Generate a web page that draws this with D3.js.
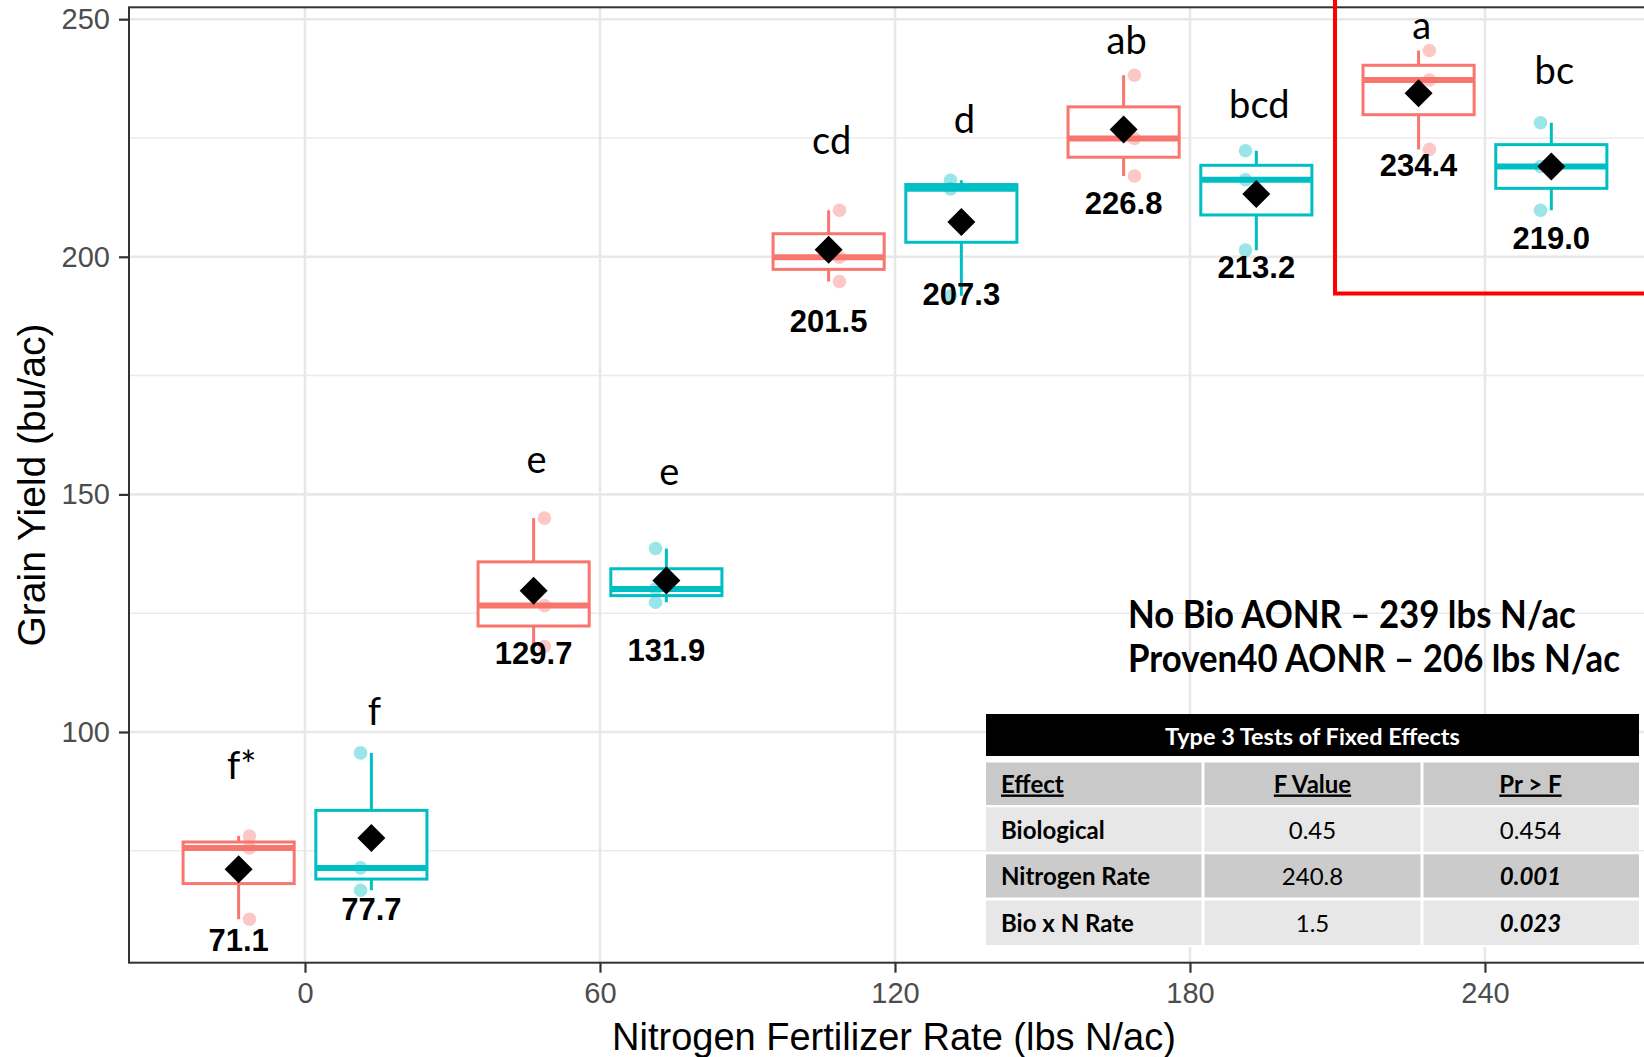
<!DOCTYPE html>
<html>
<head>
<meta charset="utf-8">
<script src="https://cdn.jsdelivr.net/npm/d3@7"></script>
<style>
  html, body { margin: 0; padding: 0; background: #ffffff; }
  svg { display: block; }
</style>
</head>
<body>
<svg id="chart" width="1644" height="1057"></svg>
<script>
// Nitrogen rates (lbs N/ac) and the two biological treatments
const rates = [0, 60, 120, 180, 240];
const treatments = ["No Bio", "Proven40"];

// Plot-level grain yield observations (bu/ac), three reps per rate
const noBioObs = [
  [78.1, 75.6, 60.6],
  [145.0, 126.6, 118.0],
  [209.8, 199.9, 194.8],
  [238.2, 224.9, 217.0],
  [243.4, 237.2, 222.6]
];
const proven40Obs = [
  [95.6, 71.4, 66.7],
  [138.6, 130.1, 127.3],
  [216.1, 214.3, 191.8],
  [222.3, 216.2, 201.4],
  [228.2, 219.0, 209.8]
];

// Treatment means (bu/ac)
const noBioMeans = [71.1, 129.7, 201.5, 226.8, 234.4];
const proven40Means = [77.7, 131.9, 207.3, 213.2, 219.0];

// Mean separation letters
const noBioLetters = ["f*", "e", "cd", "ab", "a"];
const proven40Letters = ["f", "e", "d", "bcd", "bc"];

// Where the letters and the mean labels sit, in yield units
const noBioLetterY = [90.1, 154.4, 221.7, 242.6, 245.9];
const proven40LetterY = [101.5, 151.9, 226.1, 229.2, 236.3];
const noBioLabelY = [54.0, 114.3, 184.1, 209.1, 217.0];
const proven40LabelY = [60.4, 115.0, 189.9, 195.5, 201.6];

// Axis ticks
const xTicks = [0, 60, 120, 180, 240];
const yTicks = [100, 150, 200, 250];
const yMinorTicks = [75, 125, 175, 225];

// Type 3 tests of fixed effects
const effects = ["Biological", "Nitrogen Rate", "Bio x N Rate"];
const fValues = ["0.45", "240.8", "1.5"];
const pValues = ["0.454", "0.001", "0.023"];
const pSignificant = [false, true, true];

// Agronomic optimum N rates
const aonrLines = ["No Bio AONR \u2013 239 lbs N/ac", "Proven40 AONR \u2013 206 lbs N/ac"];

// ---------------------------------------------------------------
const colors = { "No Bio": "#F8766D", "Proven40": "#00BFC4" };
const boxDodge = 13.5;     // box centre offset from the rate (x units)
const pointDodge = 11.3;   // point offset from the rate (x units)
const boxHalf = 11.3;      // half box width (x units)

const svg = d3.select("#chart");
svg.append("rect").attr("width", 1644).attr("height", 1057).attr("fill", "#fff");

const panel = { left: 129, right: 1659, top: 7.3, bottom: 962.7 };
const x = d3.scaleLinear().domain([-35.8, 275.4]).range([panel.left, panel.right]);
const y = d3.scaleLinear().domain([51.45, 252.5]).range([panel.bottom, panel.top]);

svg.append("defs").append("clipPath").attr("id", "panelClip")
  .append("rect")
  .attr("x", panel.left).attr("y", panel.top)
  .attr("width", panel.right - panel.left).attr("height", panel.bottom - panel.top);

const plot = svg.append("g").attr("clip-path", "url(#panelClip)");
const labels = svg.append("g");

// grid
plot.selectAll("line.yminor").data(yMinorTicks).join("line")
  .attr("x1", panel.left).attr("x2", panel.right)
  .attr("y1", d => y(d)).attr("y2", d => y(d))
  .attr("stroke", "#EBEBEB").attr("stroke-width", 1.5);
plot.selectAll("line.ymajor").data(yTicks).join("line")
  .attr("x1", panel.left).attr("x2", panel.right)
  .attr("y1", d => y(d)).attr("y2", d => y(d))
  .attr("stroke", "#E8E8E8").attr("stroke-width", 2.6);
plot.selectAll("line.xmajor").data(xTicks).join("line")
  .attr("x1", d => x(d)).attr("x2", d => x(d))
  .attr("y1", panel.top).attr("y2", panel.bottom)
  .attr("stroke", "#E8E8E8").attr("stroke-width", 2.6);

// assemble groups
const groups = [];
rates.forEach((r, i) => {
  [[treatments[0], noBioObs[i], noBioMeans[i], noBioLetters[i], noBioLetterY[i], noBioLabelY[i], -1],
   [treatments[1], proven40Obs[i], proven40Means[i], proven40Letters[i], proven40LetterY[i], proven40LabelY[i], 1]]
    .forEach(([trt, obs, mean, letter, letterY, labelY, side]) => {
      const s = obs.slice().sort(d3.ascending);
      groups.push({
        rate: r, trt, obs, mean, letter, letterY, labelY,
        cx: r + side * boxDodge,
        px: r + side * pointDodge,
        q1: d3.quantile(s, 0.25), med: d3.quantile(s, 0.5), q3: d3.quantile(s, 0.75),
        lo: d3.min(s), hi: d3.max(s)
      });
    });
});

const g = plot.selectAll("g.box").data(groups).join("g").attr("class", "box");
// whiskers
g.append("line")
  .attr("x1", d => x(d.cx)).attr("x2", d => x(d.cx))
  .attr("y1", d => y(d.hi)).attr("y2", d => y(d.q3))
  .attr("stroke", d => colors[d.trt]).attr("stroke-width", 3);
g.append("line")
  .attr("x1", d => x(d.cx)).attr("x2", d => x(d.cx))
  .attr("y1", d => y(d.q1)).attr("y2", d => y(d.lo))
  .attr("stroke", d => colors[d.trt]).attr("stroke-width", 3);
// box
g.append("rect")
  .attr("x", d => x(d.cx - boxHalf)).attr("width", d => x(d.cx + boxHalf) - x(d.cx - boxHalf))
  .attr("y", d => y(d.q3)).attr("height", d => y(d.q1) - y(d.q3))
  .attr("fill", "#fff").attr("stroke", d => colors[d.trt]).attr("stroke-width", 3);
// median
g.append("line")
  .attr("x1", d => x(d.cx - boxHalf)).attr("x2", d => x(d.cx + boxHalf))
  .attr("y1", d => y(d.med)).attr("y2", d => y(d.med))
  .attr("stroke", d => colors[d.trt]).attr("stroke-width", 6);

// observations
const pts = groups.flatMap(d => d.obs.map(v => ({ trt: d.trt, px: d.px, v })));
plot.selectAll("circle.obs").data(pts).join("circle")
  .attr("cx", d => x(d.px)).attr("cy", d => y(d.v)).attr("r", 6.8)
  .attr("fill", d => colors[d.trt]).attr("fill-opacity", 0.4);

// means
const diamond = d3.symbol(d3.symbolSquare, 392)();
plot.selectAll("path.mean").data(groups).join("path")
  .attr("d", diamond)
  .attr("transform", d => `translate(${x(d.cx)},${y(d.mean)}) rotate(45)`)
  .attr("fill", "#000");

// mean labels
labels.selectAll("text.meanlab").data(groups).join("text")
  .attr("class", "meanlab")
  .attr("x", d => x(d.cx)).attr("y", d => y(d.labelY))
  .attr("text-anchor", "middle")
  .attr("font-family", "'Liberation Sans', Arial, sans-serif")
  .attr("font-weight", "bold").attr("font-size", 31)
  .attr("fill", "#000")
  .text(d => d.mean.toFixed(1));

// letters
labels.selectAll("text.letter").data(groups).join("text")
  .attr("class", "letter")
  .attr("x", d => x(d.cx) + 3).attr("y", d => y(d.letterY))
  .attr("text-anchor", "middle")
  .attr("font-family", "Lato, 'Open Sans', sans-serif")
  .attr("font-size", 38).attr("fill", "#000")
  .text(d => d.letter);

// panel border
svg.append("rect")
  .attr("x", panel.left).attr("y", panel.top)
  .attr("width", panel.right - panel.left).attr("height", panel.bottom - panel.top)
  .attr("fill", "none").attr("stroke", "#333").attr("stroke-width", 2);

// axes
const tickFont = (sel) => sel.selectAll("text")
  .attr("font-family", "'Liberation Sans', Arial, sans-serif")
  .attr("font-size", 29).attr("fill", "#4D4D4D");

const yAxis = svg.append("g").attr("transform", `translate(${panel.left},0)`)
  .call(d3.axisLeft(y).tickValues(yTicks).tickSize(10).tickPadding(9));
yAxis.select(".domain").remove();
yAxis.selectAll("line").attr("stroke", "#333").attr("stroke-width", 2.2);
tickFont(yAxis);

const xAxis = svg.append("g").attr("transform", `translate(0,${panel.bottom})`)
  .call(d3.axisBottom(x).tickValues(xTicks).tickSize(10).tickPadding(9.5));
xAxis.select(".domain").remove();
xAxis.selectAll("line").attr("stroke", "#333").attr("stroke-width", 2.2);
tickFont(xAxis);

svg.append("text")
  .attr("x", (panel.left + panel.right) / 2).attr("y", 1050)
  .attr("text-anchor", "middle")
  .attr("font-family", "'Liberation Sans', Arial, sans-serif")
  .attr("font-size", 38).attr("fill", "#000")
  .text("Nitrogen Fertilizer Rate (lbs N/ac)");

svg.append("text")
  .attr("transform", `translate(45,${(panel.top + panel.bottom) / 2}) rotate(-90)`)
  .attr("text-anchor", "middle")
  .attr("font-family", "'Liberation Sans', Arial, sans-serif")
  .attr("font-size", 39).attr("fill", "#000")
  .text("Grain Yield (bu/ac)");

// AONR annotation, narrowed to the target line widths
const aonrWidths = [448, 492];
svg.selectAll("text.aonr").data(aonrLines).join("text")
  .attr("class", "aonr")
  .attr("font-family", "Lato, 'Open Sans', sans-serif")
  .attr("font-weight", "bold").attr("font-size", 38).attr("fill", "#000")
  .text(d => d)
  .each(function (d, i) {
    const w = this.getComputedTextLength();
    const k = aonrWidths[i] / w;
    d3.select(this).attr("transform", `translate(1128,${628 + i * 44}) scale(${k},1)`);
  });

// Fixed effects table
const tbl = svg.append("g");
const tLeft = 986, tRight = 1639, c1 = 1203, c2 = 1422;
const tFont = "Lato, 'Open Sans', sans-serif";
tbl.append("rect").attr("x", tLeft).attr("y", 714).attr("width", tRight - tLeft).attr("height", 233).attr("fill", "#fff");
tbl.append("rect").attr("x", tLeft).attr("y", 714).attr("width", tRight - tLeft).attr("height", 42).attr("fill", "#000");
tbl.append("text").attr("x", (tLeft + tRight) / 2).attr("y", 744.5)
  .attr("text-anchor", "middle").attr("font-family", tFont).attr("font-weight", "bold")
  .attr("font-size", 23.5).attr("fill", "#fff")
  .text("Type 3 Tests of Fixed Effects");

const rowTops = [762.5, 807.3, 854.3, 900.5];
const rowBottoms = [805, 851.7, 897.5, 945];
const rowFills = ["#C9C9C9", "#E7E7E7", "#CBCBCB", "#E7E7E7"];
rowTops.forEach((t, i) => {
  tbl.append("rect").attr("x", tLeft).attr("y", t).attr("width", tRight - tLeft)
    .attr("height", rowBottoms[i] - t).attr("fill", rowFills[i]);
});
[c1, c2].forEach(cx => {
  tbl.append("rect").attr("x", cx - 1.5).attr("y", 760).attr("width", 3).attr("height", 187).attr("fill", "#fff");
});

const colX = [1001, (c1 + c2) / 2, (c2 + tRight) / 2];
const headers = ["Effect", "F Value", "Pr > F"];
headers.forEach((h, j) => {
  tbl.append("text").attr("x", colX[j]).attr("y", 792.5)
    .attr("text-anchor", j === 0 ? "start" : "middle")
    .attr("font-family", tFont).attr("font-weight", "bold").attr("font-size", 24)
    .attr("text-decoration", "underline").attr("fill", "#000")
    .text(h);
});
const rowBase = [838.5, 885, 931.5];
effects.forEach((e, i) => {
  tbl.append("text").attr("x", colX[0]).attr("y", rowBase[i])
    .attr("font-family", tFont).attr("font-weight", "bold").attr("font-size", 24).attr("fill", "#000")
    .text(e);
  tbl.append("text").attr("x", colX[1]).attr("y", rowBase[i]).attr("text-anchor", "middle")
    .attr("font-family", tFont).attr("font-size", 24).attr("fill", "#000")
    .text(fValues[i]);
  tbl.append("text").attr("x", colX[2]).attr("y", rowBase[i]).attr("text-anchor", "middle")
    .attr("font-family", tFont).attr("font-size", 24).attr("fill", "#000")
    .attr("font-weight", pSignificant[i] ? "bold" : "normal")
    .attr("font-style", pSignificant[i] ? "italic" : "normal")
    .text(pValues[i]);
});

// highlight frame around the 240 lbs N/ac treatments
svg.append("rect")
  .attr("x", 1335).attr("y", -20).attr("width", 400).attr("height", 313.5)
  .attr("fill", "none").attr("stroke", "#FF0000").attr("stroke-width", 4);
</script>
</body>
</html>
